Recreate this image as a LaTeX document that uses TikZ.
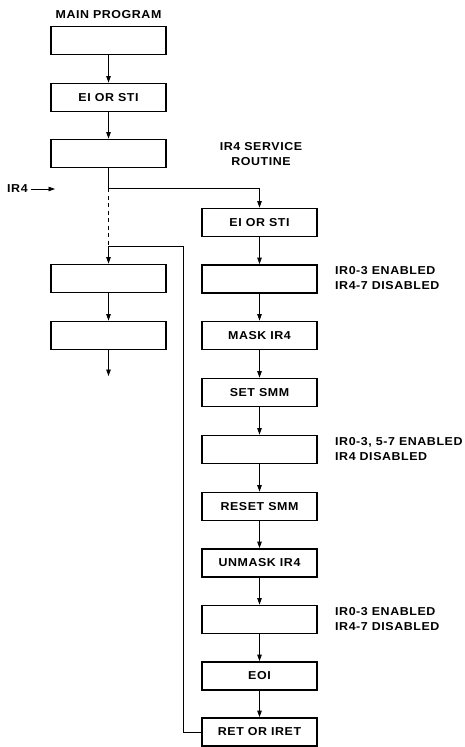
\documentclass[tikz,border=0pt]{standalone}
\usepackage{fontspec}
\newfontfamily\lblfont{Liberation Sans}[FakeStretch=1.08,LetterSpace=5]
\usetikzlibrary{arrows.meta}
\begin{document}
\begin{tikzpicture}[x=1pt,y=-1pt,
  txt/.style={font=\lblfont\bfseries\fontsize{11.5}{15}\selectfont, inner sep=0pt},
  stepbox/.style={txt, draw, line width=1.8pt, minimum width=115pt, minimum height=28pt},
  conn/.style={line width=0.8pt},
  arr/.style={conn, -{Triangle[length=6.5pt,width=4.5pt]}},
  sidelbl/.style={txt, align=left, anchor=west}]
\useasboundingbox (0,0) rectangle (464,747);
% left column
\node[txt] (mainlbl) at (108.5,14.5) {MAIN PROGRAM};
\node[stepbox] (l1) at (108.5,40.5) {};
\node[stepbox] (l2) at (108.5,97.5) {EI OR STI};
\node[stepbox] (l3) at (108.5,153.5) {};
\node[stepbox] (l4) at (108.5,278.5) {};
\node[stepbox] (l5) at (108.5,335.5) {};
% right column
\node[txt, align=center] (irlbl) at (261,154.5) {IR4 SERVICE\\ROUTINE};
\node[stepbox] (r1) at (259.5,222.5) {EI OR STI};
\node[stepbox] (r2) at (259.5,279) {};
\node[stepbox] (r3) at (259.5,335.5) {MASK IR4};
\node[stepbox] (r4) at (259.5,392.5) {SET SMM};
\node[stepbox] (r5) at (259.5,449.5) {};
\node[stepbox] (r6) at (259.5,506.5) {RESET SMM};
\node[stepbox] (r7) at (259.5,563) {UNMASK IR4};
\node[stepbox] (r8) at (259.5,619.5) {};
\node[stepbox] (r9) at (259.5,676) {EOI};
\node[stepbox] (r10) at (259.5,732) {RET OR IRET};
% side labels
\node[sidelbl] (s1) at (335,278.5) {IR0-3 ENABLED\\IR4-7 DISABLED};
\node[sidelbl] (s2) at (335,449.5) {IR0-3, 5-7 ENABLED\\IR4 DISABLED};
\node[sidelbl] (s3) at (335,619.5) {IR0-3 ENABLED\\IR4-7 DISABLED};
% IR4 interrupt label
\node[txt, anchor=west] (irq) at (7,189) {IR4};
\coordinate (irqend) at (55,189);
\draw[arr] (irq.east) ++(3pt,0) -- (irqend);
% coordinates
\coordinate (j1) at (l3.south |- 0,188);
\coordinate (j2) at (r1.north |- 0,188);
\coordinate (j3) at (l3.south |- 0,246);
\coordinate (rt) at (183.5,246);
\coordinate (rb) at (183.5,732);
\coordinate (lend) at (108.5,376);
% connectors
\draw[arr] (l1) -- (l2);
\draw[arr] (l2) -- (l3);
\draw[arr] (l3.south) -- (j1) -- (j2) -- (r1.north);
\draw[conn, dash pattern=on 4pt off 3.5pt] (j1) -- (j3);
\draw[arr] (r10.west) -- (rb) -- (rt) -- (j3) -- (l4.north);
\draw[arr] (l4) -- (l5);
\draw[arr] (l5.south) -- (lend);
\draw[arr] (r1) -- (r2);
\draw[arr] (r2) -- (r3);
\draw[arr] (r3) -- (r4);
\draw[arr] (r4) -- (r5);
\draw[arr] (r5) -- (r6);
\draw[arr] (r6) -- (r7);
\draw[arr] (r7) -- (r8);
\draw[arr] (r8) -- (r9);
\draw[arr] (r9) -- (r10);
\end{tikzpicture}
\end{document}
